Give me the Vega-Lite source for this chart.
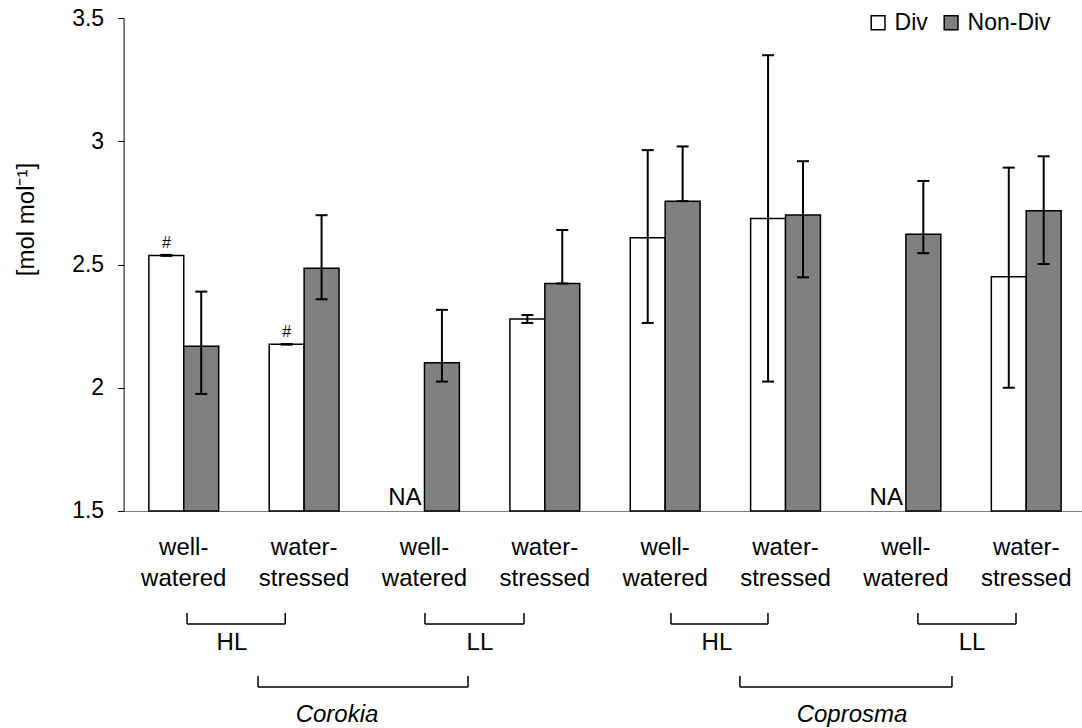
{
  "$schema": "https://vega.github.io/schema/vega-lite/v6.json",
  "width": 958,
  "height": 493,
  "autosize": {"type": "none"},
  "padding": {"left": 123.6, "top": 18, "right": 0, "bottom": 217},
  "background": "white",
  "config": {
    "view": {"stroke": null},
    "font": "Liberation Sans",
    "axis": {"grid": false, "labelFont": "Liberation Sans", "titleFont": "Liberation Sans"},
    "legend": {"labelFont": "Liberation Sans"},
    "text": {"font": "Liberation Sans", "color": "black"}
  },
  "datasets": {
    "bars": [
      {"group": "Corokia HL well-watered", "series": "Div", "value": 2.537, "lo": 2.535, "hi": 2.539, "note": "#"},
      {"group": "Corokia HL well-watered", "series": "Non-Div", "value": 2.168, "lo": 1.975, "hi": 2.390, "note": null},
      {"group": "Corokia HL water-stressed", "series": "Div", "value": 2.176, "lo": 2.175, "hi": 2.177, "note": "#"},
      {"group": "Corokia HL water-stressed", "series": "Non-Div", "value": 2.485, "lo": 2.359, "hi": 2.700, "note": null},
      {"group": "Corokia LL well-watered", "series": "Non-Div", "value": 2.101, "lo": 2.025, "hi": 2.316, "note": null},
      {"group": "Corokia LL water-stressed", "series": "Div", "value": 2.279, "lo": 2.263, "hi": 2.295, "note": null},
      {"group": "Corokia LL water-stressed", "series": "Non-Div", "value": 2.423, "lo": 2.423, "hi": 2.640, "note": null},
      {"group": "Coprosma HL well-watered", "series": "Div", "value": 2.609, "lo": 2.263, "hi": 2.964, "note": null},
      {"group": "Coprosma HL well-watered", "series": "Non-Div", "value": 2.757, "lo": 2.757, "hi": 2.979, "note": null},
      {"group": "Coprosma HL water-stressed", "series": "Div", "value": 2.687, "lo": 2.025, "hi": 3.349, "note": null},
      {"group": "Coprosma HL water-stressed", "series": "Non-Div", "value": 2.701, "lo": 2.448, "hi": 2.919, "note": null},
      {"group": "Coprosma LL well-watered", "series": "Non-Div", "value": 2.623, "lo": 2.546, "hi": 2.839, "note": null},
      {"group": "Coprosma LL water-stressed", "series": "Div", "value": 2.450, "lo": 2.000, "hi": 2.893, "note": null},
      {"group": "Coprosma LL water-stressed", "series": "Non-Div", "value": 2.718, "lo": 2.502, "hi": 2.939, "note": null}
    ],
    "missing": [
      {"group": "Corokia LL well-watered", "series": "Div", "note": "NA"},
      {"group": "Coprosma LL well-watered", "series": "Div", "note": "NA"}
    ],
    "brackets": [
      {"name": "HL", "species": "Corokia", "start": 0.527, "end": 1.343, "top": 1.086, "bottom": 1.042},
      {"name": "LL", "species": "Corokia", "start": 2.504, "end": 3.327, "top": 1.086, "bottom": 1.042},
      {"name": "HL", "species": "Coprosma", "start": 4.548, "end": 5.354, "top": 1.086, "bottom": 1.042},
      {"name": "LL", "species": "Coprosma", "start": 6.600, "end": 7.415, "top": 1.086, "bottom": 1.042},
      {"name": "Corokia", "species": "Corokia", "start": 1.117, "end": 2.862, "top": 0.831, "bottom": 0.786},
      {"name": "Coprosma", "species": "Coprosma", "start": 5.121, "end": 6.883, "top": 0.831, "bottom": 0.786}
    ],
    "bracketLabels": [
      {"label": "HL", "kind": "light", "pos": 0.900, "ypos": 0.936},
      {"label": "LL", "kind": "light", "pos": 2.961, "ypos": 0.936},
      {"label": "HL", "kind": "light", "pos": 4.930, "ypos": 0.936},
      {"label": "LL", "kind": "light", "pos": 7.050, "ypos": 0.936},
      {"label": "Corokia", "kind": "species", "pos": 1.773, "ypos": 0.644},
      {"label": "Coprosma", "kind": "species", "pos": 6.052, "ypos": 0.644}
    ]
  },
  "layer": [
    {
      "encoding": {
        "x": {
          "field": "group",
          "type": "nominal",
          "scale": {
            "domain": ["Corokia HL well-watered", "Corokia HL water-stressed", "Corokia LL well-watered", "Corokia LL water-stressed", "Coprosma HL well-watered", "Coprosma HL water-stressed", "Coprosma LL well-watered", "Coprosma LL water-stressed"],
            "paddingInner": 0.42,
            "paddingOuter": 0.19,
            "align": 0.5526
          },
          "axis": {
            "title": null,
            "ticks": false,
            "domainColor": "#808080",
            "domainWidth": 1,
            "labelAngle": 0,
            "labelExpr": "indexof(datum.label, 'well-') >= 0 ? ['well-', 'watered'] : ['water-', 'stressed']",
            "labelFontSize": 24,
            "labelLineHeight": 31,
            "labelPadding": 25,
            "labelColor": "black"
          }
        },
        "xOffset": {"field": "series", "type": "nominal", "scale": {"domain": ["Div", "Non-Div"]}},
        "y": {
          "field": "value",
          "type": "quantitative",
          "title": "[mol mol⁻¹]",
          "scale": {"domain": [1.5, 3.5], "zero": false, "nice": false},
          "axis": {
            "values": [1.5, 2, 2.5, 3, 3.5],
            "format": "~g",
            "tickSize": 6,
            "tickColor": "black",
            "domainColor": "black",
            "labelFontSize": 23,
            "labelColor": "black",
            "labelPadding": 14,
            "titleFontSize": 24,
            "titleFontWeight": "normal",
            "titleColor": "black",
            "titlePadding": 33,
            "titleY": 201
          }
        }
      },
      "layer": [
        {
          "data": {"name": "bars"},
          "mark": {"type": "bar", "stroke": "black", "strokeWidth": 1.5},
          "encoding": {
            "y2": {"datum": 1.5},
            "fill": {
              "field": "series",
              "type": "nominal",
              "scale": {"domain": ["Div", "Non-Div"], "range": ["white", "#808080"]},
              "legend": {
                "orient": "none",
                "legendX": 743,
                "legendY": -7,
                "direction": "horizontal",
                "title": null,
                "symbolType": "square",
                "symbolSize": 190,
                "symbolStrokeColor": "black",
                "symbolStrokeWidth": 1.5,
                "labelFontSize": 23,
                "labelColor": "black",
                "labelOffset": 5,
                "columnPadding": 11,
                "padding": 0
              }
            }
          }
        },
        {
          "data": {"name": "bars"},
          "mark": {"type": "rule", "strokeWidth": 2, "color": "black"},
          "encoding": {
            "y": {"field": "lo", "type": "quantitative", "title": "[mol mol⁻¹]", "scale": {"domain": [1.5, 3.5], "zero": false, "nice": false}},
            "y2": {"field": "hi"}
          }
        },
        {
          "data": {"name": "bars"},
          "mark": {"type": "tick", "size": 12, "thickness": 2, "color": "black", "opacity": 1},
          "encoding": {
            "y": {"field": "lo", "type": "quantitative", "title": "[mol mol⁻¹]", "scale": {"domain": [1.5, 3.5], "zero": false, "nice": false}}
          }
        },
        {
          "data": {"name": "bars"},
          "mark": {"type": "tick", "size": 12, "thickness": 2, "color": "black", "opacity": 1},
          "encoding": {
            "y": {"field": "hi", "type": "quantitative", "title": "[mol mol⁻¹]", "scale": {"domain": [1.5, 3.5], "zero": false, "nice": false}}
          }
        },
        {
          "data": {"name": "bars"},
          "transform": [{"filter": "datum.note === '#'"}],
          "mark": {"type": "text", "dy": -7, "baseline": "alphabetic", "fontSize": 16, "color": "black"},
          "encoding": {"text": {"field": "note"}}
        },
        {
          "data": {"name": "missing"},
          "mark": {"type": "text", "dy": -6, "dx": 14.5, "align": "right", "baseline": "alphabetic", "fontSize": 24, "color": "black"},
          "encoding": {
            "y": {"value": "height"},
            "text": {"field": "note", "type": "nominal"}
          }
        }
      ]
    },
    {
      "data": {"name": "brackets"},
      "layer": [
        {
          "mark": {"type": "rule", "strokeWidth": 1.5, "color": "black"},
          "encoding": {
            "x": {"field": "start", "type": "quantitative", "scale": {"domain": [0, 7.96], "zero": false, "nice": false}, "axis": null},
            "x2": {"field": "end"},
            "y": {"field": "bottom", "type": "quantitative", "scale": {"domain": [1.5, 3.5], "zero": false, "nice": false}, "axis": null}
          }
        },
        {
          "mark": {"type": "rule", "strokeWidth": 1.5, "color": "black"},
          "encoding": {
            "x": {"field": "start", "type": "quantitative", "scale": {"domain": [0, 7.96], "zero": false, "nice": false}, "axis": null},
            "y": {"field": "top", "type": "quantitative", "scale": {"domain": [1.5, 3.5], "zero": false, "nice": false}, "axis": null},
            "y2": {"field": "bottom"}
          }
        },
        {
          "mark": {"type": "rule", "strokeWidth": 1.5, "color": "black"},
          "encoding": {
            "x": {"field": "end", "type": "quantitative", "scale": {"domain": [0, 7.96], "zero": false, "nice": false}, "axis": null},
            "y": {"field": "top", "type": "quantitative", "scale": {"domain": [1.5, 3.5], "zero": false, "nice": false}, "axis": null},
            "y2": {"field": "bottom"}
          }
        }
      ]
    },
    {
      "data": {"name": "bracketLabels"},
      "encoding": {
        "x": {"field": "pos", "type": "quantitative", "scale": {"domain": [0, 7.96], "zero": false, "nice": false}, "axis": null},
        "y": {"field": "ypos", "type": "quantitative", "scale": {"domain": [1.5, 3.5], "zero": false, "nice": false}, "axis": null},
        "text": {"field": "label"}
      },
      "layer": [
        {
          "transform": [{"filter": "datum.kind === 'light'"}],
          "mark": {"type": "text", "baseline": "alphabetic", "align": "center", "fontSize": 24, "color": "black"}
        },
        {
          "transform": [{"filter": "datum.kind === 'species'"}],
          "mark": {"type": "text", "baseline": "alphabetic", "align": "center", "fontSize": 24, "fontStyle": "italic", "color": "black"}
        }
      ]
    }
  ],
  "resolve": {"scale": {"x": "independent", "y": "independent"}}
}
